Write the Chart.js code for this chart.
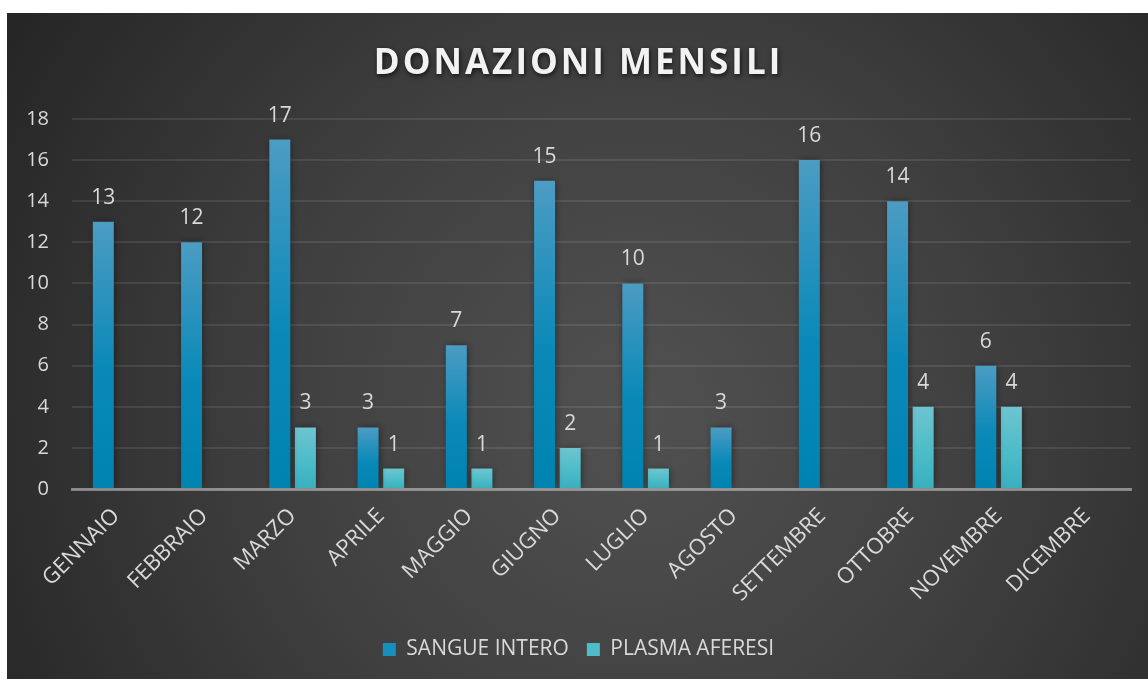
<!DOCTYPE html>
<html>
<head>
<meta charset="utf-8">
<script src="https://cdn.jsdelivr.net/npm/chart.js@4/dist/chart.umd.min.js"></script>
<style>
  html, body { margin: 0; padding: 0; background: #ffffff; }
  #wrap { position: absolute; left: 7px; top: 13px; width: 1141px; height: 666px; }
</style>
</head>
<body>
<div id="wrap"><canvas id="c"></canvas></div>
<script>
const TITLE = 'DONAZIONI MENSILI';
const MONTHS = ['GENNAIO','FEBBRAIO','MARZO','APRILE','MAGGIO','GIUGNO','LUGLIO','AGOSTO','SETTEMBRE','OTTOBRE','NOVEMBRE','DICEMBRE'];
const SERIES_NAMES = ['SANGUE INTERO', 'PLASMA AFERESI'];
const SANGUE_INTERO = [13, 12, 17, 3, 7, 15, 10, 3, 16, 14, 6, null];
const PLASMA_AFERESI = [null, null, 3, 1, 1, 2, 1, null, null, 4, 4, null];
const Y_TICKS = [0, 2, 4, 6, 8, 10, 12, 14, 16, 18];

const TEXT = '#d9d9d9';
const FONT = "'Open Sans', 'Noto Sans', sans-serif";
const SANGUE_STOPS = ['#4c9cc3', '#0a89b8', '#0083b1'];
const PLASMA_STOPS = ['#6dc5d0', '#4dbcc8', '#38afbf'];

function barGradient(c, stops) {
  const chart = c.chart;
  if (!chart.chartArea || c.type !== 'data' || c.raw == null) return stops[1];
  const y = chart.scales.y;
  const top = y.getPixelForValue(c.raw), base = y.getPixelForValue(0);
  if (!isFinite(top) || !isFinite(base) || base - top < 1) return stops[1];
  const g = chart.ctx.createLinearGradient(0, top, 0, base);
  g.addColorStop(0, stops[0]);
  g.addColorStop(0.55, stops[1]);
  g.addColorStop(1, stops[2]);
  return g;
}

const bgPlugin = {
  id: 'bg',
  beforeDraw(chart) {
    const { ctx, width, height } = chart;
    ctx.save();
    const cx = width * 0.55, cy = height * 0.6;
    const r = Math.sqrt(width * width + height * height) * 0.55;
    const g = ctx.createRadialGradient(cx, cy, 0, cx, cy, r);
    g.addColorStop(0, '#515151');
    g.addColorStop(0.5, '#3f3f3f');
    g.addColorStop(1, '#262626');
    ctx.fillStyle = g;
    ctx.fillRect(0, 0, width, height);
    ctx.restore();
  }
};

// keep the rotated first category label from pushing the plot area to the right
const noXPadPlugin = {
  id: 'noXPad',
  beforeLayout(chart) {
    const xs = chart.scales && chart.scales.x;
    if (xs && !xs._noPad) {
      xs.getPadding = function () { return { left: 0, top: 0, right: 0, bottom: 0 }; };
      xs._noPad = true;
    }
  }
};

const shadowPlugin = {
  id: 'barShadow',
  beforeDatasetsDraw(chart) {
    const ctx = chart.ctx;
    ctx.save();
    ctx.shadowColor = 'rgba(0,0,0,0.45)';
    ctx.shadowBlur = 7;
    ctx.shadowOffsetX = 1;
    ctx.shadowOffsetY = 0;
  },
  afterDatasetsDraw(chart) {
    chart.ctx.restore();
  }
};

const labelPlugin = {
  id: 'valueLabels',
  afterDatasetsDraw(chart) {
    const ctx = chart.ctx;
    ctx.save();
    ctx.fillStyle = TEXT;
    ctx.font = "21px " + FONT;
    ctx.textAlign = 'center';
    ctx.textBaseline = 'alphabetic';
    chart.data.datasets.forEach((ds, i) => {
      const meta = chart.getDatasetMeta(i);
      meta.data.forEach((el, j) => {
        const v = ds.data[j];
        if (v == null) return;
        ctx.fillText(String(v), el.x, el.y - 18);
      });
    });
    ctx.restore();
  }
};

const titleStylePlugin = {
  id: 'titleStyle',
  afterLayout(chart) {
    const tb = chart.titleBlock;
    if (tb && !tb._styled) {
      const orig = tb.draw.bind(tb);
      tb.draw = function () {
        const ctx = chart.ctx;
        ctx.save();
        ctx.letterSpacing = '3px';
        ctx.shadowColor = 'rgba(0,0,0,0.7)';
        ctx.shadowBlur = 5;
        ctx.shadowOffsetX = 1;
        ctx.shadowOffsetY = 2;
        orig();
        ctx.restore();
      };
      tb._styled = true;
    }
  }
};

new Chart(document.getElementById('c'), {
  type: 'bar',
  data: {
    labels: MONTHS,
    datasets: [
      {
        label: SERIES_NAMES[0],
        data: SANGUE_INTERO,
        backgroundColor: (c) => barGradient(c, SANGUE_STOPS),
        borderWidth: 0
      },
      {
        label: SERIES_NAMES[1],
        data: PLASMA_AFERESI,
        backgroundColor: (c) => barGradient(c, PLASMA_STOPS),
        borderWidth: 0
      }
    ]
  },
  options: {
    responsive: true,
    maintainAspectRatio: false,
    animation: false,
    categoryPercentage: 0.58,
    barPercentage: 0.82,
    layout: { padding: { left: 19, right: 17, top: 30, bottom: 9 } },
    plugins: {
      title: {
        display: true,
        text: TITLE,
        color: '#f2f2f2',
        font: { family: FONT, size: 35, weight: 'bold' },
        padding: { top: 0, bottom: 34 }
      },
      legend: {
        display: true,
        position: 'bottom',
        labels: {
          color: TEXT,
          font: { family: FONT, size: 21 },
          boxWidth: 13,
          boxHeight: 13,
          padding: 18,
          generateLabels(chart) {
            return chart.data.datasets.map((ds, i) => ({
              text: ds.label,
              fillStyle: i === 0 ? '#168fbd' : '#4fbdc9',
              strokeStyle: 'rgba(0,0,0,0)',
              lineWidth: 0,
              fontColor: TEXT,
              datasetIndex: i,
              hidden: false
            }));
          }
        }
      },
      tooltip: { enabled: false }
    },
    scales: {
      x: {
        grid: { display: false, drawTicks: false },
        border: { display: true, color: 'rgba(200,200,200,0.55)', width: 3, z: 1 },
        ticks: {
          color: TEXT,
          font: { family: FONT, size: 22 },
          maxRotation: 45,
          minRotation: 45,
          autoSkip: false,
          padding: 14
        },
        afterFit(scale) { scale.paddingLeft = 0; scale.paddingRight = 0; }
      },
      y: {
        min: 0,
        max: 18,
        afterBuildTicks(scale) { scale.ticks = Y_TICKS.map(v => ({ value: v })); },
        afterFit(scale) { scale.width = 46; },
        grid: { color: 'rgba(255,255,255,0.09)', lineWidth: 2, drawTicks: false },
        border: { display: false },
        ticks: {
          color: TEXT,
          font: { family: FONT, size: 20 },
          padding: 23
        }
      }
    }
  },
  plugins: [bgPlugin, noXPadPlugin, shadowPlugin, labelPlugin, titleStylePlugin]
});
</script>
</body>
</html>
